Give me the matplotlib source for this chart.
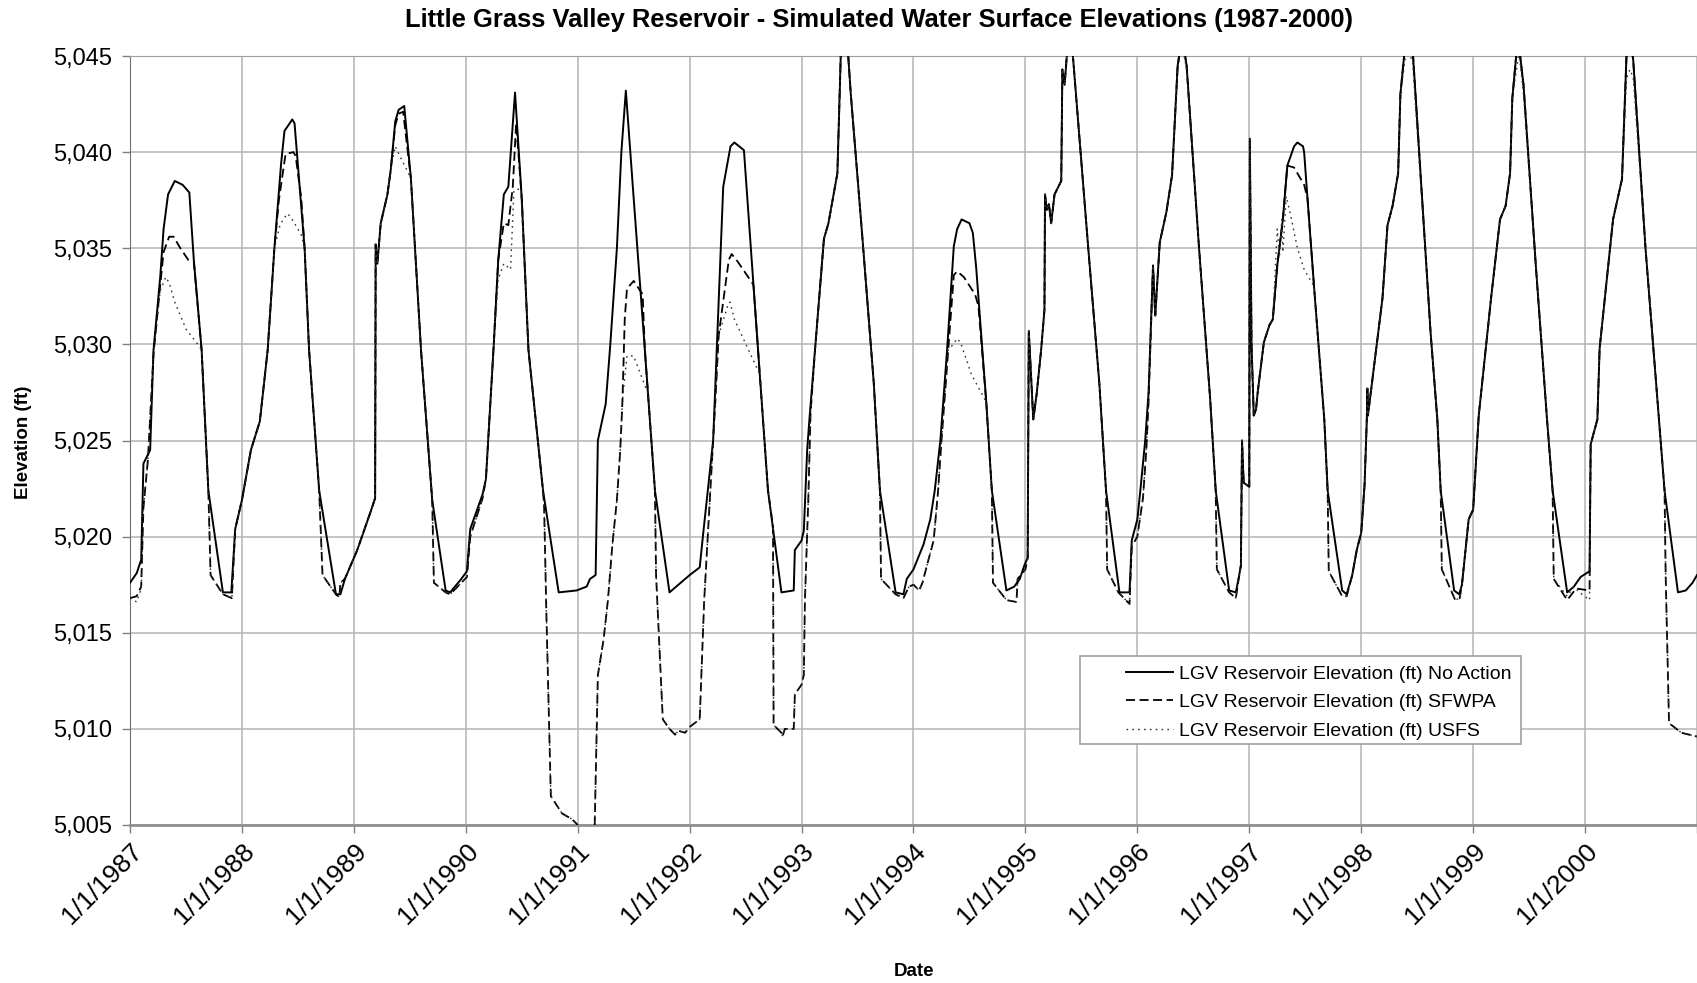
import matplotlib.pyplot as plt
from matplotlib.patches import Rectangle

plt.rcParams['font.family'] = ['Liberation Sans', 'DejaVu Sans']

# values: (decimal year, elevation in ft)
no_action = [
    (1987.00, 5017.6), (1987.06, 5018.1), (1987.10, 5018.8), (1987.12, 5023.8), (1987.18, 5024.5),
    (1987.21, 5029.7), (1987.27, 5033.5), (1987.30, 5036.0), (1987.34, 5037.8), (1987.40, 5038.5),
    (1987.47, 5038.3), (1987.53, 5037.9), (1987.57, 5034.4), (1987.64, 5029.7), (1987.70, 5022.4),
    (1987.83, 5017.1), (1987.905, 5017.1), (1987.94, 5020.4), (1988.00, 5021.9), (1988.08, 5024.5),
    (1988.16, 5026.0), (1988.23, 5029.7), (1988.29, 5035.0), (1988.35, 5039.4), (1988.38, 5041.1),
    (1988.45, 5041.7), (1988.47, 5041.5), (1988.56, 5035.0), (1988.60, 5029.7), (1988.69, 5022.4),
    (1988.84, 5017.0), (1988.88, 5017.0), (1988.92, 5017.8), (1989.03, 5019.3), (1989.15, 5021.3),
    (1989.19, 5022.0), (1989.195, 5035.2), (1989.21, 5034.2), (1989.24, 5036.3), (1989.30, 5037.8),
    (1989.33, 5039.1), (1989.37, 5041.6), (1989.40, 5042.2), (1989.45, 5042.4), (1989.51, 5038.6),
    (1989.60, 5029.7), (1989.70, 5021.9), (1989.82, 5017.2), (1989.86, 5017.1), (1989.96, 5017.8),
    (1990.01, 5018.2), (1990.04, 5020.4), (1990.15, 5022.2), (1990.18, 5023.0), (1990.25, 5030.0),
    (1990.29, 5034.4), (1990.34, 5037.8), (1990.38, 5038.2), (1990.44, 5043.1), (1990.50, 5037.6),
    (1990.56, 5029.7), (1990.69, 5022.4), (1990.83, 5017.1), (1990.99, 5017.2), (1991.08, 5017.4),
    (1991.11, 5017.8), (1991.16, 5018.0), (1991.18, 5025.0), (1991.25, 5026.9), (1991.29, 5029.9),
    (1991.35, 5035.0), (1991.39, 5040.0), (1991.43, 5043.2), (1991.50, 5037.6), (1991.60, 5029.7),
    (1991.69, 5022.4), (1991.82, 5017.1), (1991.88, 5017.4), (1991.96, 5017.8), (1992.00, 5018.0),
    (1992.09, 5018.4), (1992.12, 5020.1), (1992.21, 5025.0), (1992.30, 5038.2), (1992.365, 5040.3),
    (1992.40, 5040.5), (1992.485, 5040.1), (1992.57, 5033.1), (1992.70, 5022.4), (1992.82, 5017.1),
    (1992.93, 5017.2), (1992.94, 5019.3), (1993.00, 5019.8), (1993.02, 5020.3), (1993.05, 5024.5),
    (1993.07, 5026.1), (1993.12, 5029.7), (1993.20, 5035.5), (1993.24, 5036.3), (1993.32, 5038.9),
    (1993.35, 5045.0), (1993.39, 5046.0), (1993.41, 5045.6), (1993.44, 5043.0), (1993.54, 5035.8),
    (1993.645, 5028.0), (1993.70, 5022.4), (1993.84, 5017.1), (1993.91, 5017.0), (1993.94, 5017.8),
    (1994.00, 5018.3), (1994.09, 5019.6), (1994.15, 5020.9), (1994.19, 5022.4), (1994.24, 5025.0),
    (1994.30, 5029.7), (1994.36, 5035.1), (1994.39, 5036.0), (1994.43, 5036.5), (1994.50, 5036.3),
    (1994.53, 5035.8), (1994.56, 5034.0), (1994.65, 5027.0), (1994.70, 5022.4), (1994.83, 5017.2),
    (1994.90, 5017.4), (1994.95, 5017.8), (1994.99, 5018.5), (1995.02, 5018.9), (1995.03, 5030.7),
    (1995.07, 5026.1), (1995.10, 5027.4), (1995.14, 5029.7), (1995.17, 5031.8), (1995.175, 5037.8),
    (1995.19, 5037.0), (1995.21, 5037.3), (1995.23, 5036.3), (1995.26, 5037.8), (1995.32, 5038.5),
    (1995.33, 5044.3), (1995.35, 5043.5), (1995.38, 5045.8), (1995.42, 5045.3), (1995.56, 5035.1),
    (1995.66, 5028.0), (1995.72, 5022.4), (1995.84, 5017.1), (1995.93, 5017.1), (1995.95, 5019.8),
    (1996.00, 5020.9), (1996.03, 5022.6), (1996.07, 5025.0), (1996.10, 5027.5), (1996.14, 5034.1),
    (1996.16, 5031.5), (1996.20, 5035.3), (1996.26, 5036.9), (1996.31, 5038.8), (1996.36, 5044.5),
    (1996.40, 5046.0), (1996.44, 5044.5), (1996.55, 5035.1), (1996.65, 5027.2), (1996.70, 5022.4),
    (1996.82, 5017.2), (1996.88, 5017.1), (1996.91, 5018.0), (1996.925, 5018.5), (1996.935, 5025.0),
    (1996.95, 5022.8), (1997.00, 5022.6), (1997.005, 5040.7), (1997.02, 5030.0), (1997.04, 5026.3),
    (1997.06, 5026.6), (1997.075, 5027.5), (1997.13, 5030.1), (1997.18, 5031.0), (1997.21, 5031.3),
    (1997.25, 5034.1), (1997.30, 5036.5), (1997.34, 5039.3), (1997.40, 5040.3), (1997.43, 5040.5),
    (1997.48, 5040.3), (1997.49, 5040.0), (1997.52, 5037.6), (1997.58, 5032.9), (1997.67, 5026.1),
    (1997.70, 5022.4), (1997.83, 5017.2), (1997.87, 5017.0), (1997.92, 5018.0), (1997.96, 5019.3),
    (1998.00, 5020.2), (1998.03, 5022.7), (1998.05, 5026.1), (1998.055, 5027.7), (1998.06, 5026.3),
    (1998.19, 5032.4), (1998.235, 5036.2), (1998.28, 5037.2), (1998.33, 5038.9), (1998.35, 5043.0),
    (1998.40, 5046.0), (1998.46, 5045.3), (1998.62, 5030.6), (1998.68, 5026.1), (1998.71, 5022.4),
    (1998.83, 5017.2), (1998.875, 5017.0), (1998.90, 5017.5), (1998.96, 5020.9), (1999.00, 5021.4),
    (1999.05, 5026.3), (1999.16, 5032.4), (1999.24, 5036.5), (1999.29, 5037.2), (1999.33, 5038.9),
    (1999.35, 5042.8), (1999.40, 5046.0), (1999.45, 5043.5), (1999.56, 5034.1), (1999.66, 5026.1),
    (1999.71, 5022.4), (1999.84, 5017.1), (1999.90, 5017.4), (1999.96, 5017.9), (2000.04, 5018.2),
    (2000.05, 5024.8), (2000.11, 5026.1), (2000.13, 5029.8), (2000.25, 5036.5), (2000.33, 5038.6),
    (2000.37, 5045.0), (2000.40, 5046.0), (2000.43, 5044.8), (2000.54, 5035.0), (2000.66, 5026.1),
    (2000.71, 5022.4), (2000.83, 5017.1), (2000.90, 5017.2), (2000.96, 5017.6), (2001.00, 5018.0),
]

sfwpa = [
    (1987.00, 5016.8), (1987.06, 5016.9), (1987.10, 5017.4), (1987.12, 5021.5), (1987.16, 5024.0),
    (1987.21, 5029.5), (1987.26, 5032.5), (1987.30, 5034.8), (1987.35, 5035.6), (1987.39, 5035.6),
    (1987.45, 5035.0), (1987.52, 5034.4), (1987.57, 5034.3), (1987.64, 5029.7), (1987.70, 5022.4),
    (1987.72, 5018.0), (1987.83, 5017.0), (1987.91, 5016.8), (1987.94, 5020.4), (1988.00, 5021.9),
    (1988.08, 5024.5), (1988.16, 5026.0), (1988.23, 5029.7), (1988.29, 5035.0), (1988.33, 5037.5),
    (1988.39, 5039.9), (1988.46, 5040.0), (1988.48, 5039.8), (1988.53, 5037.6), (1988.56, 5035.0),
    (1988.60, 5029.7), (1988.69, 5022.4), (1988.72, 5018.0), (1988.84, 5017.0), (1988.87, 5016.85),
    (1988.88, 5017.6), (1988.92, 5017.8), (1989.03, 5019.3), (1989.15, 5021.3), (1989.19, 5022.0),
    (1989.195, 5035.2), (1989.21, 5034.2), (1989.24, 5036.3), (1989.30, 5037.8), (1989.33, 5039.1),
    (1989.37, 5041.4), (1989.40, 5042.0), (1989.44, 5042.1), (1989.51, 5038.6), (1989.60, 5029.7),
    (1989.70, 5021.9), (1989.715, 5017.6), (1989.82, 5017.1), (1989.86, 5017.0), (1989.96, 5017.6),
    (1990.01, 5017.9), (1990.04, 5020.0), (1990.15, 5022.0), (1990.18, 5023.0), (1990.25, 5030.0),
    (1990.29, 5034.4), (1990.34, 5036.3), (1990.38, 5036.2), (1990.42, 5038.2), (1990.45, 5041.5),
    (1990.50, 5037.6), (1990.56, 5029.7), (1990.69, 5022.4), (1990.70, 5021.5), (1990.72, 5016.0),
    (1990.76, 5006.5), (1990.86, 5005.6), (1990.95, 5005.3), (1991.00, 5005.0), (1991.02, 5004.5),
    (1991.15, 5004.5), (1991.18, 5012.8), (1991.23, 5014.6), (1991.27, 5016.7), (1991.31, 5019.6),
    (1991.35, 5021.9), (1991.38, 5024.5), (1991.40, 5027.1), (1991.42, 5031.3), (1991.44, 5032.9),
    (1991.50, 5033.3), (1991.58, 5032.6), (1991.60, 5029.7), (1991.69, 5022.4), (1991.70, 5018.0),
    (1991.76, 5010.5), (1991.82, 5010.0), (1991.87, 5009.7), (1991.90, 5009.9), (1991.96, 5009.8),
    (1992.00, 5010.1), (1992.09, 5010.5), (1992.13, 5016.7), (1992.18, 5021.9), (1992.23, 5027.1),
    (1992.26, 5030.5), (1992.35, 5034.4), (1992.375, 5034.7), (1992.43, 5034.3), (1992.57, 5033.1),
    (1992.70, 5022.4), (1992.745, 5020.5), (1992.75, 5010.2), (1992.82, 5009.8), (1992.83, 5009.6),
    (1992.85, 5010.0), (1992.93, 5010.0), (1992.94, 5011.8), (1993.00, 5012.3), (1993.02, 5012.8),
    (1993.03, 5016.7), (1993.06, 5021.9), (1993.08, 5026.4), (1993.12, 5029.7), (1993.20, 5035.5),
    (1993.24, 5036.3), (1993.32, 5038.9), (1993.35, 5045.0), (1993.39, 5046.0), (1993.41, 5045.6),
    (1993.44, 5043.0), (1993.54, 5035.8), (1993.645, 5028.0), (1993.70, 5022.4), (1993.71, 5017.8),
    (1993.84, 5017.0), (1993.91, 5016.8), (1993.96, 5017.4), (1994.00, 5017.5), (1994.05, 5017.2),
    (1994.08, 5017.6), (1994.12, 5018.5), (1994.18, 5019.8), (1994.22, 5022.4), (1994.25, 5025.0),
    (1994.31, 5029.7), (1994.36, 5033.6), (1994.39, 5033.8), (1994.45, 5033.5), (1994.55, 5032.6),
    (1994.58, 5032.0), (1994.65, 5027.0), (1994.70, 5022.4), (1994.71, 5017.6), (1994.83, 5016.7),
    (1994.92, 5016.6), (1994.93, 5017.8), (1995.00, 5018.3), (1995.02, 5018.9), (1995.03, 5030.7),
    (1995.07, 5026.1), (1995.10, 5027.4), (1995.14, 5029.7), (1995.17, 5031.8), (1995.175, 5037.8),
    (1995.19, 5037.0), (1995.21, 5037.3), (1995.23, 5036.3), (1995.26, 5037.8), (1995.32, 5038.5),
    (1995.33, 5044.3), (1995.35, 5043.5), (1995.38, 5045.8), (1995.42, 5045.3), (1995.56, 5035.1),
    (1995.66, 5028.0), (1995.72, 5022.4), (1995.73, 5018.3), (1995.83, 5017.1), (1995.93, 5016.5),
    (1995.95, 5019.5), (1996.00, 5020.0), (1996.05, 5022.0), (1996.08, 5024.5), (1996.10, 5027.0),
    (1996.14, 5034.1), (1996.16, 5031.5), (1996.20, 5035.3), (1996.26, 5036.9), (1996.31, 5038.8),
    (1996.36, 5044.5), (1996.40, 5046.0), (1996.44, 5044.5), (1996.55, 5035.1), (1996.65, 5027.2),
    (1996.70, 5022.4), (1996.71, 5018.3), (1996.82, 5017.1), (1996.88, 5016.8), (1996.91, 5018.0),
    (1996.925, 5018.5), (1996.935, 5025.0), (1996.95, 5022.8), (1997.00, 5022.6), (1997.005, 5040.7),
    (1997.02, 5030.0), (1997.04, 5026.3), (1997.06, 5026.6), (1997.075, 5027.5), (1997.13, 5030.1),
    (1997.18, 5031.0), (1997.21, 5031.3), (1997.25, 5034.1), (1997.30, 5036.5), (1997.34, 5039.3),
    (1997.40, 5039.2), (1997.43, 5038.9), (1997.49, 5038.3), (1997.52, 5037.6), (1997.58, 5032.9),
    (1997.67, 5026.1), (1997.70, 5022.4), (1997.71, 5018.2), (1997.83, 5016.9), (1997.87, 5016.9),
    (1997.92, 5018.0), (1997.96, 5019.3), (1998.00, 5020.2), (1998.03, 5022.7), (1998.05, 5026.1),
    (1998.055, 5027.7), (1998.06, 5026.3), (1998.19, 5032.4), (1998.235, 5036.2), (1998.28, 5037.2),
    (1998.33, 5038.9), (1998.35, 5043.0), (1998.40, 5046.0), (1998.46, 5045.3), (1998.62, 5030.6),
    (1998.68, 5026.1), (1998.71, 5022.4), (1998.72, 5018.3), (1998.84, 5016.7), (1998.88, 5016.8),
    (1998.90, 5017.5), (1998.96, 5020.9), (1999.00, 5021.4), (1999.05, 5026.3), (1999.16, 5032.4),
    (1999.24, 5036.5), (1999.29, 5037.2), (1999.33, 5038.9), (1999.35, 5042.8), (1999.40, 5046.0),
    (1999.45, 5043.5), (1999.56, 5034.1), (1999.66, 5026.1), (1999.71, 5022.4), (1999.72, 5017.8),
    (1999.84, 5016.7), (1999.92, 5017.3), (2000.04, 5017.2), (2000.05, 5024.8), (2000.11, 5026.1),
    (2000.13, 5029.8), (2000.25, 5036.5), (2000.33, 5038.6), (2000.37, 5045.0), (2000.40, 5046.0),
    (2000.43, 5044.8), (2000.54, 5035.0), (2000.66, 5026.1), (2000.71, 5022.4), (2000.72, 5018.0),
    (2000.75, 5010.3), (2000.86, 5009.8), (2000.93, 5009.7), (2001.00, 5009.6),
]

usfs = [
    (1987.00, 5016.8), (1987.06, 5016.6), (1987.10, 5017.3), (1987.12, 5021.5), (1987.16, 5024.0),
    (1987.21, 5029.5), (1987.27, 5032.8), (1987.32, 5033.5), (1987.35, 5033.2), (1987.40, 5032.2),
    (1987.50, 5030.8), (1987.62, 5029.9), (1987.64, 5029.7), (1987.70, 5022.4), (1987.72, 5018.0),
    (1987.83, 5017.0), (1987.91, 5016.8), (1987.94, 5020.4), (1988.00, 5021.9), (1988.08, 5024.5),
    (1988.16, 5026.0), (1988.23, 5029.7), (1988.29, 5035.0), (1988.34, 5036.2), (1988.38, 5036.6),
    (1988.41, 5036.8), (1988.46, 5036.4), (1988.53, 5035.7), (1988.56, 5035.0), (1988.60, 5029.7),
    (1988.69, 5022.4), (1988.72, 5018.0), (1988.84, 5017.0), (1988.87, 5016.85), (1988.88, 5017.6),
    (1988.92, 5017.8), (1989.03, 5019.3), (1989.15, 5021.3), (1989.19, 5022.0), (1989.195, 5035.2),
    (1989.21, 5034.2), (1989.24, 5036.3), (1989.30, 5037.8), (1989.33, 5039.1), (1989.37, 5040.3),
    (1989.41, 5039.8), (1989.48, 5039.0), (1989.51, 5038.6), (1989.60, 5029.7), (1989.70, 5021.9),
    (1989.715, 5017.6), (1989.82, 5017.1), (1989.86, 5017.0), (1989.96, 5017.6), (1990.01, 5017.9),
    (1990.04, 5020.0), (1990.15, 5022.0), (1990.18, 5023.0), (1990.25, 5030.0), (1990.29, 5033.4),
    (1990.34, 5034.2), (1990.40, 5033.9), (1990.43, 5038.0), (1990.49, 5038.1), (1990.52, 5035.0),
    (1990.56, 5029.7), (1990.69, 5022.4), (1990.70, 5021.5), (1990.72, 5016.0), (1990.76, 5006.5),
    (1990.86, 5005.6), (1990.95, 5005.3), (1991.00, 5005.0), (1991.02, 5004.5), (1991.15, 5004.5),
    (1991.18, 5012.8), (1991.23, 5014.6), (1991.27, 5016.7), (1991.31, 5019.6), (1991.35, 5021.9),
    (1991.38, 5024.5), (1991.40, 5027.1), (1991.44, 5029.4), (1991.50, 5029.4), (1991.63, 5027.4),
    (1991.69, 5022.4), (1991.70, 5018.0), (1991.76, 5010.5), (1991.82, 5010.0), (1991.87, 5009.7),
    (1991.90, 5009.9), (1991.96, 5009.8), (1992.00, 5010.1), (1992.09, 5010.5), (1992.13, 5016.7),
    (1992.18, 5021.9), (1992.23, 5027.1), (1992.26, 5030.5), (1992.345, 5032.1), (1992.36, 5032.2),
    (1992.40, 5031.3), (1992.63, 5028.4), (1992.70, 5022.4), (1992.745, 5020.5), (1992.75, 5010.2),
    (1992.82, 5009.8), (1992.83, 5009.6), (1992.85, 5010.0), (1992.93, 5010.0), (1992.94, 5011.8),
    (1993.00, 5012.3), (1993.02, 5012.8), (1993.03, 5016.7), (1993.06, 5021.9), (1993.08, 5026.4),
    (1993.12, 5029.7), (1993.20, 5035.5), (1993.24, 5036.3), (1993.32, 5038.9), (1993.35, 5045.0),
    (1993.39, 5046.0), (1993.41, 5045.6), (1993.44, 5043.0), (1993.54, 5035.8), (1993.645, 5028.0),
    (1993.70, 5022.4), (1993.71, 5017.8), (1993.84, 5017.0), (1993.91, 5016.8), (1993.96, 5017.4),
    (1994.00, 5017.5), (1994.05, 5017.2), (1994.08, 5017.6), (1994.12, 5018.5), (1994.18, 5019.8),
    (1994.22, 5022.4), (1994.25, 5025.0), (1994.31, 5029.7), (1994.34, 5029.9), (1994.39, 5030.3),
    (1994.42, 5030.1), (1994.52, 5028.4), (1994.65, 5027.0), (1994.70, 5022.4), (1994.71, 5017.6),
    (1994.83, 5016.7), (1994.92, 5016.6), (1994.93, 5017.8), (1995.00, 5018.3), (1995.02, 5018.9),
    (1995.03, 5030.7), (1995.07, 5026.1), (1995.10, 5027.4), (1995.14, 5029.7), (1995.17, 5031.8),
    (1995.175, 5037.8), (1995.19, 5037.0), (1995.21, 5037.3), (1995.23, 5036.3), (1995.26, 5037.8),
    (1995.32, 5038.5), (1995.33, 5044.3), (1995.35, 5043.5), (1995.38, 5045.8), (1995.42, 5045.3),
    (1995.56, 5035.1), (1995.66, 5028.0), (1995.72, 5022.4), (1995.73, 5018.3), (1995.83, 5017.1),
    (1995.93, 5016.5), (1995.95, 5019.5), (1996.00, 5020.0), (1996.05, 5022.0), (1996.08, 5024.5),
    (1996.10, 5027.0), (1996.14, 5034.1), (1996.16, 5031.5), (1996.20, 5035.3), (1996.26, 5036.9),
    (1996.31, 5038.8), (1996.36, 5044.3), (1996.40, 5045.6), (1996.44, 5044.3), (1996.55, 5035.1),
    (1996.65, 5027.2), (1996.70, 5022.4), (1996.71, 5018.3), (1996.82, 5017.1), (1996.88, 5016.8),
    (1996.91, 5018.0), (1996.925, 5018.5), (1996.935, 5025.0), (1996.95, 5022.8), (1997.00, 5022.6),
    (1997.005, 5040.7), (1997.02, 5030.0), (1997.04, 5026.3), (1997.06, 5026.6), (1997.075, 5027.5),
    (1997.13, 5030.1), (1997.18, 5031.0), (1997.21, 5031.3), (1997.25, 5036.0), (1997.27, 5034.6),
    (1997.29, 5036.5), (1997.30, 5034.8), (1997.33, 5037.7), (1997.37, 5036.7), (1997.43, 5035.0),
    (1997.49, 5033.9), (1997.57, 5033.1), (1997.58, 5032.9), (1997.67, 5026.1), (1997.70, 5022.4),
    (1997.71, 5018.2), (1997.83, 5016.9), (1997.87, 5016.9), (1997.92, 5018.0), (1997.96, 5019.3),
    (1998.00, 5020.2), (1998.03, 5022.7), (1998.05, 5026.1), (1998.055, 5027.7), (1998.06, 5026.3),
    (1998.19, 5032.4), (1998.235, 5036.2), (1998.28, 5037.2), (1998.33, 5038.9), (1998.35, 5043.0),
    (1998.41, 5045.6), (1998.46, 5044.6), (1998.62, 5030.6), (1998.68, 5026.1), (1998.71, 5022.4),
    (1998.72, 5018.3), (1998.84, 5016.7), (1998.88, 5016.8), (1998.90, 5017.5), (1998.96, 5020.9),
    (1999.00, 5021.4), (1999.05, 5026.3), (1999.16, 5032.4), (1999.24, 5036.5), (1999.29, 5037.2),
    (1999.33, 5038.9), (1999.35, 5042.8), (1999.41, 5045.2), (1999.45, 5043.0), (1999.56, 5034.1),
    (1999.66, 5026.1), (1999.71, 5022.4), (1999.72, 5017.8), (1999.84, 5016.9), (1999.90, 5017.4),
    (1999.95, 5017.1), (2000.04, 5016.7), (2000.05, 5024.8), (2000.11, 5026.1), (2000.13, 5029.8),
    (2000.25, 5036.5), (2000.33, 5038.6), (2000.37, 5043.8), (2000.40, 5044.3), (2000.43, 5043.9),
    (2000.54, 5035.0), (2000.66, 5026.1), (2000.71, 5022.4), (2000.72, 5018.0), (2000.75, 5010.3),
    (2000.86, 5009.8), (2000.93, 5009.7), (2001.00, 5009.6),
]

years = list(range(1987, 2001))
year_labels = ["1/1/%d" % y for y in years]
elev_ticks = list(range(5005, 5046, 5))

series_labels = ["LGV Reservoir Elevation (ft) No Action",
                 "LGV Reservoir Elevation (ft) SFWPA",
                 "LGV Reservoir Elevation (ft) USFS"]

W, H = 1697, 983
fig = plt.figure(figsize=(W / 100, H / 100), dpi=100)
ax = fig.add_axes([130 / W, 1 - 825 / H, 1567 / W, 769 / H])

ax.plot([p[0] for p in no_action], [p[1] for p in no_action],
        color='black', lw=1.4, label=series_labels[0], zorder=3)
ax.plot([p[0] for p in sfwpa], [p[1] for p in sfwpa],
        color='black', lw=1.3, dashes=(5, 2.5), label=series_labels[1], zorder=3)
ax.plot([p[0] for p in usfs], [p[1] for p in usfs],
        color='#333333', lw=1.0, dashes=(1.2, 3.0), label=series_labels[2], zorder=3)

ax.set_xlim(1987, 2001)
ax.set_ylim(5005, 5045)
ax.set_xticks(years + [2001])
ax.set_xticklabels(year_labels + [""], rotation=45, ha='right', rotation_mode='anchor', fontsize=19)
ax.set_yticks(elev_ticks)
ax.set_yticklabels(["{:,}".format(v) for v in elev_ticks], fontsize=17)
ax.tick_params(axis='both', direction='out', length=6, color='#808080', width=1)
ax.tick_params(axis='y', pad=7)
ax.tick_params(axis='x', pad=4)
ax.grid(True, color='#b4b4b4', lw=1.1)
ax.set_axisbelow(True)

ax.spines['right'].set_visible(False)
ax.spines['top'].set_color('#a0a0a0')
ax.spines['left'].set_color('#707070')
ax.spines['bottom'].set_color('#909090')
ax.spines['bottom'].set_linewidth(2)

fig.text(879 / W, 1 - 20 / H,
         "Little Grass Valley Reservoir - Simulated Water Surface Elevations (1987-2000)",
         ha='center', va='center', fontsize=18.4, fontweight='bold')
fig.text(24 / W, 1 - 442 / H, "Elevation (ft)", rotation=90,
         ha='center', va='center', fontsize=13.5, fontweight='bold')
fig.text(914 / W, 1 - 971 / H, "Date", ha='center', va='center', fontsize=13.5, fontweight='bold')

# legend box drawn separately so the left padding matches the original
box = Rectangle((1080 / W, 1 - 744 / H), 441 / W, 88 / H, transform=fig.transFigure,
                facecolor='white', edgecolor='#a0a0a0', lw=1.2, zorder=4, clip_on=False)
ax.add_patch(box)
leg = ax.legend(loc='upper left', bbox_to_anchor=(1126 / W, 1 - 665 / H),
                bbox_transform=fig.transFigure, frameon=False, fontsize=14,
                handlelength=2.4, handletextpad=0.35, borderpad=0, borderaxespad=0,
                labelspacing=0.56)
leg.set_zorder(5)

plt.savefig("out.png", dpi=100)
